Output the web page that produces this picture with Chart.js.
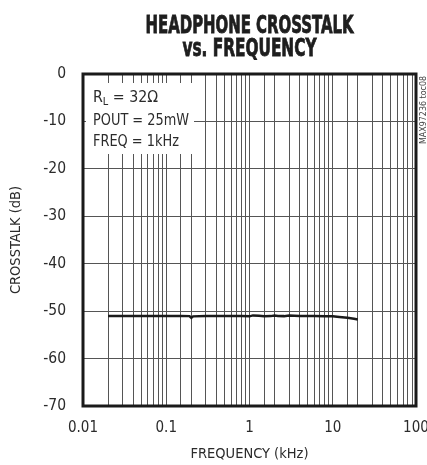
<!DOCTYPE html>
<html><head><meta charset="utf-8">
<script src="https://cdn.jsdelivr.net/npm/chart.js@4.4.1/dist/chart.umd.min.js"></script>
<style>html,body{margin:0;padding:0;background:#fff;overflow:hidden}#wrap{width:427px;height:465px;position:relative}</style>
</head><body><div id="wrap"><canvas id="c" width="427" height="465"></canvas></div>
<script>
// ---- data ----
const freqKHz = [0.02, 0.05, 0.1, 0.15, 0.19, 0.2, 0.21, 0.3, 0.5, 0.8, 1.0, 1.1, 1.3, 1.5, 1.8, 2.0, 2.2, 2.6, 3.0, 4.0, 6.0, 8.0, 10.0, 12.0, 15.0, 18.0, 20.0];
const crosstalkDB = [-51.0, -51.0, -51.0, -51.0, -51.05, -51.4, -51.1, -51.0, -51.0, -51.0, -51.1, -50.9, -50.95, -51.1, -51.05, -50.9, -51.0, -51.05, -50.9, -51.0, -51.05, -51.1, -51.1, -51.25, -51.4, -51.6, -51.75];
const xTickValues = [0.01, 0.1, 1, 10, 100];
const xTickLabels = ['0.01', '0.1', '1', '10', '100'];
const yMin = -70, yMax = 0, yStep = 10;
const titleLines = ['HEADPHONE CROSSTALK', 'vs. FREQUENCY'];
const xTitle = 'FREQUENCY (kHz)';
const yTitle = 'CROSSTALK (dB)';
const noteLines = [['R', 'L', ' = 32\u03A9'], ['POUT = 25mW'], ['FREQ = 1kHz']];
const watermark = 'MAX97236 toc08';

const FONT = '"DejaVu Sans Condensed", "Liberation Sans", sans-serif';
const TXT = '#2b2b2b';

const decor = {
  id: 'decor',
  beforeDatasetsDraw(chart) {
    const ctx = chart.ctx, a = chart.chartArea;
    ctx.save();
    ctx.fillStyle = '#fff';
    ctx.fillRect(a.left + 3, a.top + 9, 108, 71);
    ctx.fillStyle = TXT;
    ctx.textBaseline = 'alphabetic';
    ctx.textAlign = 'left';
    const x0 = a.left + 10;
    const base = [a.top + 28, a.top + 50.5, a.top + 72];
    const fitW = [65, 96, 86];
    noteLines.forEach((parts, i) => {
      ctx.save();
      ctx.translate(x0, base[i]);
      ctx.font = '16px ' + FONT;
      let total = 0;
      if (parts.length === 3) {
        total = ctx.measureText(parts[0]).width + ctx.measureText(parts[2]).width;
        ctx.font = '11px ' + FONT; total += ctx.measureText(parts[1]).width;
      } else {
        total = ctx.measureText(parts[0]).width;
      }
      ctx.scale(fitW[i] / total, 1);
      let x = 0;
      if (parts.length === 3) {
        ctx.font = '16px ' + FONT;
        ctx.fillText(parts[0], x, 0); x += ctx.measureText(parts[0]).width;
        ctx.font = '11px ' + FONT;
        ctx.fillText(parts[1], x, 3); x += ctx.measureText(parts[1]).width;
        ctx.font = '16px ' + FONT;
        ctx.fillText(parts[2], x, 0);
      } else {
        ctx.font = '16px ' + FONT;
        ctx.fillText(parts[0], 0, 0);
      }
      ctx.restore();
    });
    ctx.restore();
  },
  afterDraw(chart) {
    const ctx = chart.ctx, a = chart.chartArea;
    ctx.save();
    ctx.strokeStyle = '#1a1a1a';
    ctx.lineWidth = 3;
    ctx.strokeRect(a.left, a.top, a.right - a.left, a.bottom - a.top);
    // title
    const cx = (a.left + a.right) / 2;
    ctx.fillStyle = '#1e1e1e';
    ctx.textAlign = 'center';
    ctx.textBaseline = 'alphabetic';
    ctx.font = 'bold 24px ' + FONT;
    const widths = [208, 134];
    const bases = [33, 56];
    titleLines.forEach((t, i) => {
      const w = ctx.measureText(t).width;
      ctx.save();
      ctx.translate(cx, bases[i]);
      ctx.scale(widths[i] / w, 1);
      ctx.fillText(t, 0, 0);
      ctx.strokeStyle = '#1e1e1e';
      ctx.lineWidth = 0.8;
      ctx.strokeText(t, 0, 0);
      ctx.restore();
    });
    // watermark
    ctx.save();
    ctx.translate(a.right + 8, a.top + 36);
    ctx.rotate(-Math.PI / 2);
    ctx.font = '9px ' + FONT;
    ctx.fillStyle = '#444';
    ctx.textAlign = 'center';
    ctx.textBaseline = 'middle';
    const ww = ctx.measureText(watermark).width;
    ctx.scale(68 / ww, 1);
    ctx.fillText(watermark, 0, 0);
    ctx.restore();
    ctx.restore();
  }
};

new Chart(document.getElementById('c'), {
  type: 'line',
  data: {
    datasets: [{
      data: freqKHz.map((f, i) => ({ x: f, y: crosstalkDB[i] })),
      borderColor: '#1a1a1a',
      borderWidth: 2.5,
      pointRadius: 0,
      tension: 0,
      fill: false
    }]
  },
  options: {
    responsive: false,
    animation: false,
    devicePixelRatio: 1,
    layout: { padding: { left: 0, right: 11, top: 74, bottom: 0 } },
    plugins: { legend: { display: false }, tooltip: { enabled: false }, title: { display: false } },
    scales: {
      x: {
        type: 'logarithmic',
        min: 0.01, max: 100,
        grid: { color: '#555', lineWidth: 1, drawTicks: false },
        border: { display: false },
        ticks: {
          autoSkip: false, maxRotation: 0, padding: 13, color: TXT,
          font: { family: FONT, size: 15 },
          callback: (v) => {
            const k = xTickValues.findIndex(t => Math.abs(t - v) / t < 1e-6);
            return k >= 0 ? xTickLabels[k] : '';
          }
        },
        title: { display: true, text: xTitle, color: TXT, font: { family: FONT, size: 14.5 }, padding: { top: 0, bottom: 2 } },
        afterFit: (s) => { s.height = 59; s.paddingLeft = 0; s.paddingRight = 0; }
      },
      y: {
        type: 'linear',
        min: yMin, max: yMax,
        grid: { color: '#555', lineWidth: 1, drawTicks: false },
        border: { display: false },
        ticks: { stepSize: yStep, padding: 17, color: TXT, font: { family: FONT, size: 15.5 } },
        title: { display: true, text: yTitle, color: TXT, font: { family: FONT, size: 14.5 }, padding: { top: 8, bottom: 0 } },
        afterFit: (s) => { s.width = 83; s.paddingTop = 0; s.paddingBottom = 0; }
      }
    }
  },
  plugins: [decor]
});
</script>
</body></html>
